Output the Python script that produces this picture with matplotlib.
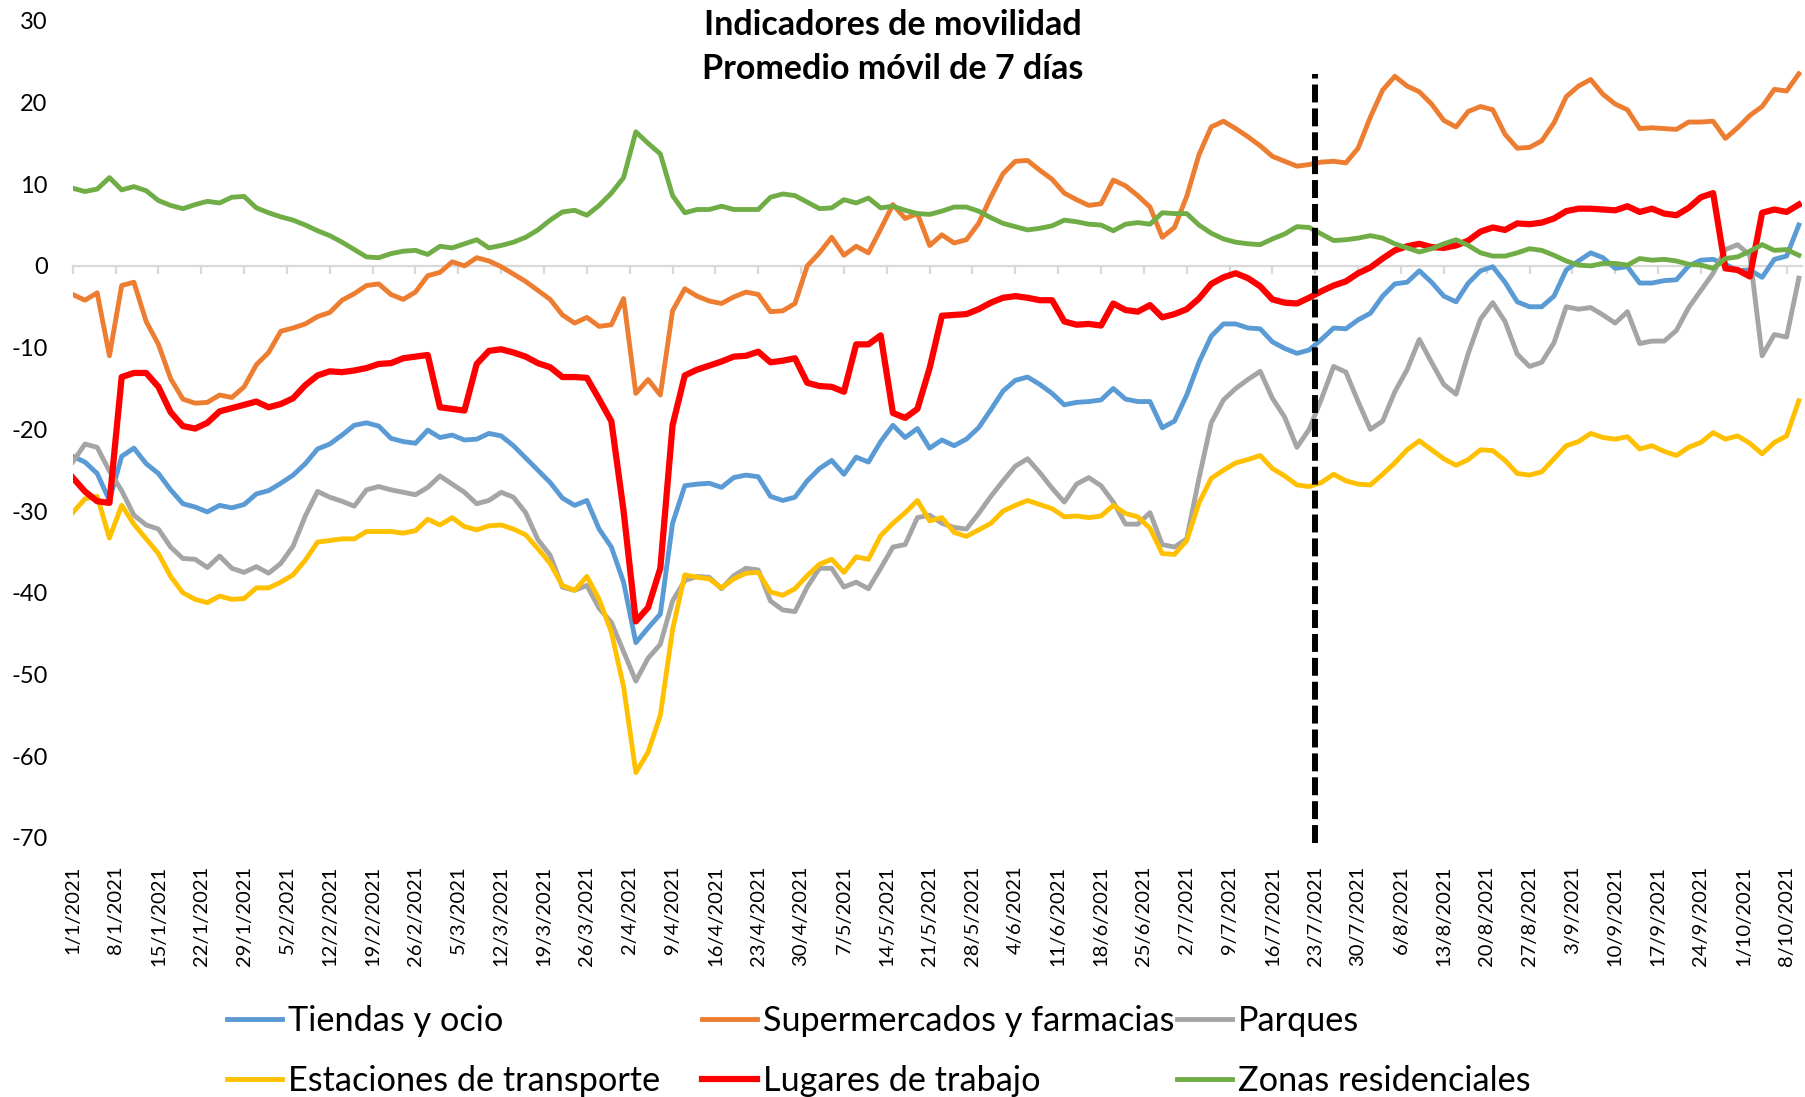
import numpy as np
import pandas as pd
import matplotlib
matplotlib.use("Agg")
import matplotlib.pyplot as plt

plt.rcParams['font.family'] = ['Lato', 'DejaVu Sans']
plt.rcParams['axes.unicode_minus'] = False

# one value every 2 days, 1/1/2021 .. 10/10/2021
fechas = pd.date_range('2021-01-01', '2021-10-10', freq='2D')

tiendas = [
    -23.3, -24.0, -25.4, -28.7, -23.3, -22.3, -24.2, -25.4, -27.4, -29.1,
    -29.5, -30.1, -29.3, -29.6, -29.2, -27.9, -27.5, -26.6, -25.6, -24.2,
    -22.4, -21.8, -20.7, -19.5, -19.2, -19.6, -21.1, -21.5, -21.7, -20.1,
    -21.0, -20.7, -21.3, -21.2, -20.5, -20.8, -22.0, -23.5, -25.0, -26.5,
    -28.4, -29.3, -28.7, -32.2, -34.4, -38.7, -46.1, -44.3, -42.6, -31.5,
    -26.9, -26.7, -26.6, -27.1, -25.9, -25.6, -25.8, -28.2, -28.7, -28.3,
    -26.3, -24.8, -23.8, -25.5, -23.4, -24.0, -21.5, -19.5, -21.0, -19.9,
    -22.3, -21.3, -22.0, -21.2, -19.8, -17.6, -15.3, -14.0, -13.6, -14.5,
    -15.6, -17.0, -16.7, -16.6, -16.4, -15.0, -16.3, -16.6, -16.6, -19.8,
    -19.0, -15.8, -11.8, -8.6, -7.1, -7.1, -7.6, -7.7, -9.3, -10.1,
    -10.7, -10.3, -9.0, -7.6, -7.7, -6.6, -5.8, -3.7, -2.2, -2.0,
    -0.6, -2.0, -3.7, -4.4, -2.1, -0.6, -0.1, -2.0, -4.4, -5.0,
    -5.0, -3.7, -0.5, 0.6, 1.6, 1.0, -0.3, -0.1, -2.1, -2.1,
    -1.8, -1.7, 0.0, 0.7, 0.8, 0.2, -0.6, -0.5, -1.4, 0.8,
    1.2, 5.0]

supermercados = [
    -3.5, -4.2, -3.3, -11.0, -2.4, -2.0, -6.8, -9.6, -13.8, -16.3,
    -16.8, -16.7, -15.8, -16.1, -14.8, -12.1, -10.6, -8.0, -7.6, -7.1,
    -6.2, -5.7, -4.2, -3.4, -2.4, -2.2, -3.5, -4.1, -3.2, -1.2,
    -0.8, 0.5, 0.0, 1.0, 0.6, -0.1, -1.0, -1.9, -3.0, -4.1,
    -6.0, -7.0, -6.3, -7.4, -7.2, -4.0, -15.6, -13.9, -15.8, -5.5,
    -2.8, -3.7, -4.3, -4.6, -3.8, -3.2, -3.5, -5.6, -5.5, -4.6,
    0.0, 1.6, 3.5, 1.3, 2.4, 1.6, 4.5, 7.5, 5.8, 6.4,
    2.5, 3.8, 2.8, 3.2, 5.2, 8.4, 11.3, 12.8, 12.9, 11.7,
    10.6, 8.9, 8.1, 7.4, 7.6, 10.5, 9.8, 8.6, 7.2, 3.5,
    4.7, 8.5, 13.6, 17.0, 17.7, 16.8, 15.8, 14.7, 13.4, 12.8,
    12.2, 12.4, 12.7, 12.8, 12.6, 14.4, 18.2, 21.5, 23.2, 22.0,
    21.3, 19.8, 17.8, 17.0, 18.9, 19.5, 19.1, 16.1, 14.4, 14.5,
    15.3, 17.5, 20.7, 22.0, 22.8, 21.0, 19.8, 19.1, 16.8, 16.9,
    16.8, 16.7, 17.6, 17.6, 17.7, 15.6, 16.9, 18.4, 19.5, 21.6,
    21.4, 23.5]

parques = [
    -24.0, -21.8, -22.2, -25.1, -27.5, -30.5, -31.7, -32.2, -34.4, -35.8,
    -35.9, -36.9, -35.5, -37.0, -37.5, -36.8, -37.6, -36.4, -34.3, -30.6,
    -27.6, -28.3, -28.8, -29.4, -27.4, -27.0, -27.4, -27.7, -28.0, -27.1,
    -25.7, -26.7, -27.7, -29.1, -28.7, -27.7, -28.3, -30.2, -33.5, -35.4,
    -39.3, -39.7, -39.1, -41.9, -43.6, -47.2, -50.8, -48.0, -46.3, -41.0,
    -38.5, -38.0, -38.1, -39.5, -37.9, -37.0, -37.2, -41.0, -42.1, -42.3,
    -39.3, -37.0, -37.0, -39.3, -38.7, -39.5, -37.0, -34.4, -34.1, -30.8,
    -30.5, -31.5, -32.0, -32.2, -30.3, -28.2, -26.3, -24.5, -23.6, -25.3,
    -27.2, -28.9, -26.7, -25.9, -26.9, -28.9, -31.6, -31.6, -30.2, -34.1,
    -34.4, -33.4, -26.0, -19.2, -16.4, -15.0, -13.9, -12.9, -16.2, -18.5,
    -22.2, -20.0, -16.3, -12.3, -13.0, -16.6, -20.0, -19.0, -15.4, -12.7,
    -9.0, -11.8, -14.5, -15.7, -10.7, -6.5, -4.5, -6.8, -10.8, -12.3,
    -11.8, -9.4, -5.0, -5.3, -5.1, -6.0, -7.0, -5.6, -9.5, -9.2,
    -9.2, -7.9, -5.1, -3.0, -0.9, 2.0, 2.6, 1.3, -11.0, -8.4,
    -8.7, -1.5]

estaciones = [
    -30.2, -28.5, -28.2, -33.3, -29.3, -31.6, -33.4, -35.2, -38.0, -40.0,
    -40.8, -41.2, -40.4, -40.8, -40.7, -39.4, -39.4, -38.7, -37.8, -36.0,
    -33.8, -33.6, -33.4, -33.4, -32.5, -32.5, -32.5, -32.7, -32.4, -31.0,
    -31.7, -30.8, -31.9, -32.3, -31.8, -31.7, -32.2, -32.9, -34.6, -36.4,
    -39.1, -39.7, -38.0, -40.8, -44.8, -51.5, -62.0, -59.5, -55.0, -44.5,
    -37.8, -38.1, -38.3, -39.4, -38.3, -37.6, -37.5, -39.9, -40.3, -39.5,
    -37.9, -36.5, -35.9, -37.5, -35.6, -35.9, -33.0, -31.5, -30.2, -28.7,
    -31.2, -30.8, -32.6, -33.1, -32.3, -31.5, -30.0, -29.3, -28.7, -29.2,
    -29.7, -30.7, -30.6, -30.8, -30.6, -29.3, -30.3, -30.7, -32.1, -35.2,
    -35.3, -33.6, -29.0, -26.0, -25.0, -24.1, -23.7, -23.2, -24.8, -25.7,
    -26.8, -27.0, -26.5, -25.5, -26.3, -26.7, -26.8, -25.5, -24.1, -22.5,
    -21.4, -22.5, -23.6, -24.4, -23.7, -22.5, -22.6, -23.8, -25.4, -25.6,
    -25.2, -23.6, -22.0, -21.5, -20.5, -21.0, -21.2, -20.9, -22.4, -22.0,
    -22.7, -23.2, -22.2, -21.6, -20.4, -21.2, -20.8, -21.7, -23.0, -21.6,
    -20.8, -16.5]

trabajo = [
    -25.9, -27.6, -28.8, -29.0, -13.6, -13.1, -13.1, -14.8, -17.9, -19.6,
    -19.9, -19.2, -17.8, -17.4, -17.0, -16.6, -17.3, -16.9, -16.2, -14.6,
    -13.4, -12.9, -13.0, -12.8, -12.5, -12.0, -11.9, -11.3, -11.1, -10.9,
    -17.3, -17.5, -17.7, -12.0, -10.4, -10.2, -10.6, -11.1, -11.9, -12.4,
    -13.6, -13.6, -13.7, -16.3, -19.0, -30.0, -43.5, -41.8, -37.0, -19.5,
    -13.4, -12.7, -12.2, -11.7, -11.1, -11.0, -10.5, -11.8, -11.6, -11.3,
    -14.3, -14.7, -14.8, -15.4, -9.6, -9.6, -8.5, -18.0, -18.6, -17.5,
    -12.5, -6.1, -6.0, -5.9, -5.3, -4.5, -3.9, -3.7, -3.9, -4.2,
    -4.2, -6.8, -7.2, -7.1, -7.3, -4.6, -5.4, -5.6, -4.8, -6.3,
    -5.9, -5.3, -4.0, -2.2, -1.4, -0.9, -1.5, -2.5, -4.1, -4.5,
    -4.6, -3.9, -3.1, -2.4, -1.9, -0.9, -0.2, 0.9, 1.9, 2.4,
    2.7, 2.3, 2.2, 2.5, 3.1, 4.2, 4.7, 4.4, 5.2, 5.1,
    5.3, 5.8, 6.7, 7.0, 7.0, 6.9, 6.8, 7.3, 6.6, 7.0,
    6.4, 6.2, 7.1, 8.4, 8.9, -0.3, -0.5, -1.3, 6.5, 6.9,
    6.6, 7.5]

residencial = [
    9.5, 9.1, 9.4, 10.8, 9.3, 9.7, 9.2, 8.0, 7.4, 7.0,
    7.5, 7.9, 7.7, 8.4, 8.5, 7.1, 6.5, 6.0, 5.6, 5.0,
    4.3, 3.7, 2.9, 2.0, 1.1, 1.0, 1.5, 1.8, 1.9, 1.4,
    2.4, 2.2, 2.7, 3.2, 2.2, 2.5, 2.9, 3.5, 4.4, 5.6,
    6.6, 6.8, 6.2, 7.4, 8.9, 10.8, 16.4, 15.0, 13.7, 8.6,
    6.5, 6.9, 6.9, 7.3, 6.9, 6.9, 6.9, 8.4, 8.8, 8.6,
    7.8, 7.0, 7.1, 8.1, 7.7, 8.3, 7.1, 7.3, 6.8, 6.4,
    6.3, 6.7, 7.2, 7.2, 6.7, 5.9, 5.2, 4.8, 4.4, 4.6,
    4.9, 5.6, 5.4, 5.1, 5.0, 4.3, 5.1, 5.3, 5.1, 6.5,
    6.4, 6.4, 5.0, 4.0, 3.3, 2.9, 2.7, 2.6, 3.3, 3.9,
    4.8, 4.7, 3.9, 3.1, 3.2, 3.4, 3.7, 3.4, 2.7, 2.2,
    1.7, 2.1, 2.7, 3.2, 2.5, 1.6, 1.2, 1.2, 1.6, 2.1,
    1.9, 1.3, 0.6, 0.1, 0.0, 0.3, 0.3, 0.1, 0.9, 0.7,
    0.8, 0.6, 0.2, 0.1, -0.3, 0.9, 1.1, 1.8, 2.6, 1.9,
    2.0, 1.3]

series = [
    ('Tiendas y ocio', tiendas, '#5B9BD5', 3.5),
    ('Supermercados y farmacias', supermercados, '#ED7D31', 3.5),
    ('Parques', parques, '#A5A5A5', 3.5),
    ('Estaciones de transporte', estaciones, '#FFC000', 3.5),
    ('Lugares de trabajo', trabajo, '#FF0000', 4.5),
    ('Zonas residenciales', residencial, '#70AD47', 3.5),
]

fecha_corte = pd.Timestamp('2021-07-23')
tick_fechas = pd.date_range('2021-01-01', '2021-10-08', freq='7D')
tick_labels = [f'{d.day}/{d.month}/{d.year}' for d in tick_fechas]

inicio = fechas[0]
dias = np.array((fechas - inicio).days)
tick_dias = np.array((tick_fechas - inicio).days)

fig = plt.figure(figsize=(18.05, 10.97), dpi=100)
ax = fig.add_axes([72.7 / 1805, 1 - 838 / 1097, (1802.5 - 72.7) / 1805, (838 - 20.7) / 1097])

lines = []
for nombre, vals, color, lw in series:
    ln, = ax.plot(dias, vals, color=color, lw=lw, label=nombre, solid_joinstyle='round')
    lines.append(ln)

ax.vlines((fecha_corte - inicio).days, -70.6, 23.5, colors='black', lw=4.3,
          linestyles=(0, (3, 1)), zorder=5, clip_on=False)

ax.set_xlim(0, 282.6)
ax.set_ylim(-70, 30)
ax.set_yticks(range(-70, 31, 10))
ax.tick_params(axis='y', length=0, pad=18, labelsize=17)
for s in ['left', 'right', 'top']:
    ax.spines[s].set_visible(False)
ax.spines['bottom'].set_position(('data', 0))
ax.spines['bottom'].set_color('#D9D9D9')
ax.spines['bottom'].set_linewidth(1.6)
ax.spines['bottom'].set_zorder(0.5)
ax.set_xticks(tick_dias)
ax.tick_params(axis='x', direction='out', length=6, width=1.6, color='#D9D9D9', labelbottom=False)

sec = ax.secondary_xaxis('bottom')
sec.set_xticks(tick_dias, tick_labels, rotation=90)
sec.spines['bottom'].set_visible(False)
sec.tick_params(length=0, pad=20, labelsize=14.5)

fig.text(0.4948, 1 - 47 / 1097, 'Indicadores de movilidad\nPromedio móvil de 7 días',
         ha='center', va='center', fontsize=24.5, fontweight='bold', linespacing=1.45)

cols = [(0, 3), (1, 4), (2, 5)]
xs = [227, 702, 1177]
for (a, b), x in zip(cols, xs):
    fig.legend([lines[a], lines[b]], [series[a][0], series[b][0]],
               loc='center left', bbox_to_anchor=(x / 1805, 1 - 1051 / 1097),
               frameon=False, fontsize=24.7, handlelength=1.6, handletextpad=0.18,
               borderpad=0, borderaxespad=0, labelspacing=0.82)

fig.savefig('out.png', dpi=100)
